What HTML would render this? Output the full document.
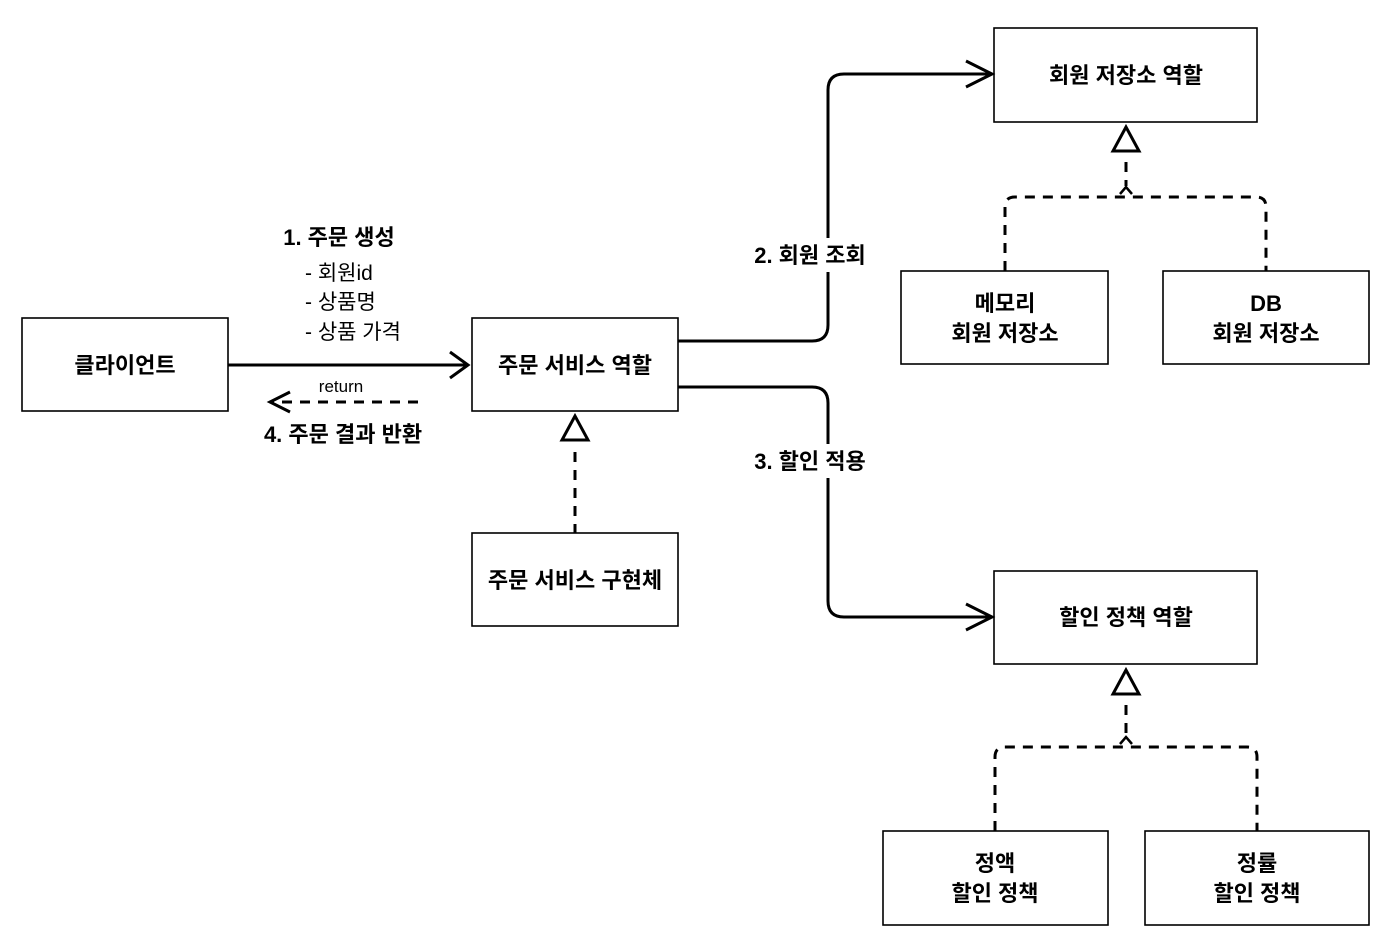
<!DOCTYPE html>
<html><head><meta charset="utf-8"><style>
html,body{margin:0;padding:0;background:#fff;}
svg text{font-family:"Liberation Sans","Noto Sans CJK KR",sans-serif;fill:#000;}
.b{font-weight:bold;font-size:22px;}
.n{font-size:21px;}
</style></head><body>
<svg width="1392" height="944" viewBox="0 0 1392 944" xmlns="http://www.w3.org/2000/svg">
<g fill="#fff" stroke="#000" stroke-width="1.6">
<rect x="22" y="318" width="206" height="93"/>
<rect x="472" y="318" width="206" height="93"/>
<rect x="472" y="533" width="206" height="93"/>
<rect x="994" y="28" width="263" height="94"/>
<rect x="901" y="271" width="207" height="93"/>
<rect x="1163" y="271" width="206" height="93"/>
<rect x="994" y="571" width="263" height="93"/>
<rect x="883" y="831" width="225" height="94"/>
<rect x="1145" y="831" width="224" height="94"/>
</g>
<g fill="none" stroke="#000" stroke-width="3">
<line x1="228" y1="365" x2="468" y2="365"/>
<polyline points="450,352 468,365 450,378"/>
<path d="M678 341 H812 Q828 341 828 325 V90 Q828 74 844 74 H992"/>
<polyline points="966,61 992,74 966,87"/>
<path d="M678 387 H812 Q828 387 828 403 V601 Q828 617 844 617 H992"/>
<polyline points="966,604 992,617 966,630"/>
<line x1="418" y1="402" x2="272" y2="402" stroke-dasharray="10,8"/>
<polyline points="290,392 270,402 290,412"/>
<polygon points="1126,127 1113,151 1139,151"/>
<polygon points="1126,670 1113,694 1139,694"/>
<polygon points="575,416 562,440 588,440"/>
<g stroke-dasharray="10,8">
<line x1="575" y1="452" x2="575" y2="533"/>
<line x1="1126" y1="162" x2="1126" y2="186"/>
<path d="M1005 271 V207 Q1005 197 1015 197 H1256 Q1266 197 1266 207 V271"/>
<line x1="1126" y1="705" x2="1126" y2="736"/>
<path d="M995 831 V757 Q995 747 1005 747 H1247 Q1257 747 1257 757 V831"/>
</g>
<polyline points="1120,194 1126,187 1132,194" stroke-width="2.5"/>
<polyline points="1120,744 1126,737 1132,744" stroke-width="2.5"/>
</g>
<rect x="742" y="238" width="136" height="34" fill="#fff"/>
<rect x="742" y="444" width="136" height="34" fill="#fff"/>
<g text-anchor="middle">
<text class="b" x="125" y="373">클라이언트</text>
<text class="b" x="575" y="373">주문 서비스 역할</text>
<text class="b" x="575" y="588">주문 서비스 구현체</text>
<text class="b" x="1126" y="83">회원 저장소 역할</text>
<text class="b" x="1005" y="311">메모리</text>
<text class="b" x="1005" y="341">회원 저장소</text>
<text class="b" x="1266" y="311">DB</text>
<text class="b" x="1266" y="341">회원 저장소</text>
<text class="b" x="1126" y="625">할인 정책 역할</text>
<text class="b" x="995" y="871">정액</text>
<text class="b" x="995" y="901">할인 정책</text>
<text class="b" x="1257" y="871">정률</text>
<text class="b" x="1257" y="901">할인 정책</text>
<text class="b" x="810" y="263">2. 회원 조회</text>
<text class="b" x="810" y="469">3. 할인 적용</text>
<text class="b" x="339" y="245">1. 주문 생성</text>
<text class="b" x="343" y="442">4. 주문 결과 반환</text>
<text x="341" y="392" style="font-size:17px">return</text>
</g>
<text class="n" x="305" y="280">- 회원id</text>
<text class="n" x="305" y="309">- 상품명</text>
<text class="n" x="305" y="339">- 상품 가격</text>
</svg>
</body></html>
